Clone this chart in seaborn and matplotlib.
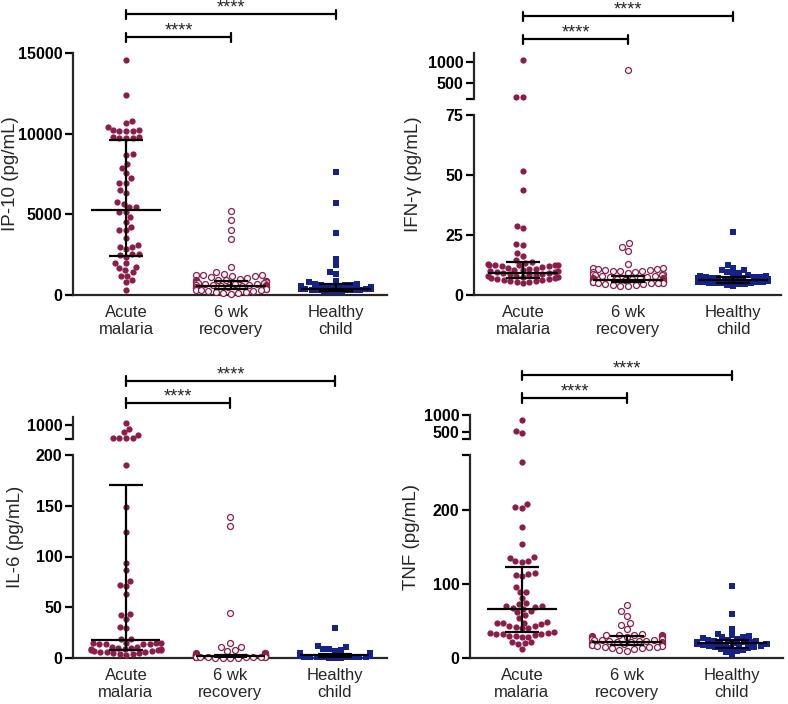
import warnings
import numpy as np
import pandas as pd
import matplotlib
matplotlib.use("Agg")
import matplotlib.pyplot as plt
import matplotlib.transforms as mtransforms
import seaborn as sns

warnings.filterwarnings("ignore")

groups = ["Acute\nmalaria", "6 wk\nrecovery", "Healthy\nchild"]

# ---- IP-10 (pg/mL) ----
ip10_acute = [14550, 12380, 10780, 10650, 10430, 10220, 10200, 10180, 10150, 10140,
              9800, 9780, 9760, 9750, 9720, 8720, 8700, 8100, 7850, 7550, 7230, 6960,
              6950, 6500, 6340, 5780, 5640, 5470, 5450, 5160, 5130, 4850, 4550, 4230,
              4030, 4000, 3550, 3100, 3000, 2980, 2830, 2550, 2540, 2500, 2380, 2000,
              1990, 1750, 1700, 1550, 1400, 1200, 1180, 930, 800, 310]
ip10_recov = [5200, 4620, 4050, 3450, 1750, 1400, 1330, 1240, 1230, 1210, 1180, 1150,
              1100, 1060, 1000, 960, 930, 900, 880, 860, 840, 810, 790, 760, 740, 720,
              700, 680, 660, 640, 620, 600, 590, 570, 550, 540, 520, 500, 490, 470, 450,
              430, 410, 390, 370, 350, 330, 310, 290, 260, 230, 200, 170, 140, 100, 60]
ip10_healthy = [7620, 5720, 3820, 2250, 1850, 1400, 1320, 870, 800, 700, 680, 650, 620,
                600, 580, 560, 540, 520, 510, 500, 490, 480, 470, 460, 450, 440, 430,
                420, 410, 400, 390, 380, 370, 360, 350, 340, 330, 320, 300, 280, 260,
                240, 220, 200]
ip10_median = [5250, 560, 370]
ip10_q1 = [2400, 350, 250]
ip10_q3 = [9600, 870, 660]

# ---- IFN-gamma (pg/mL) ----
ifng_acute = [1050, 170, 165, 51.7, 43.8, 28.7, 27.8, 21.1, 21.0, 17.4, 16.2, 14.6,
              13.6, 13.5, 12.8, 12.7, 12.6, 12.5, 12.4, 12.3, 12.2, 12.0, 11.5, 11.2,
              11.0, 10.8, 10.5, 10.3, 10.0, 9.8, 9.6, 9.4, 9.2, 9.0, 8.8, 8.6, 8.4, 8.2,
              8.0, 7.8, 7.6, 7.4, 7.2, 7.0, 6.8, 6.6, 6.4, 6.2, 6.0, 5.8, 5.6, 5.4, 5.0]
ifng_recov = [800, 21.5, 20.1, 18.3, 12.8, 11.4, 11.2, 11.0, 10.8, 10.6, 10.4, 10.2,
              10.0, 9.8, 9.6, 9.4, 9.1, 8.9, 8.6, 8.4, 8.2, 8.0, 7.8, 7.6, 7.4, 7.2,
              7.0, 6.9, 6.8, 6.7, 6.6, 6.5, 6.4, 6.3, 6.2, 6.1, 6.0, 5.9, 5.8, 5.7,
              5.6, 5.5, 5.4, 5.3, 5.2, 5.1, 5.0, 4.8, 4.6, 4.4, 4.2, 4.0, 3.8, 3.6]
ifng_healthy = [26.4, 12.5, 11.4, 10.4, 10.3, 9.6, 9.0, 8.6, 8.3, 8.1, 7.9, 7.7, 7.5,
                7.3, 7.2, 7.1, 7.0, 6.9, 6.8, 6.7, 6.6, 6.5, 6.4, 6.3, 6.2, 6.1, 6.0,
                5.9, 5.8, 5.7, 5.6, 5.5, 5.4, 5.3, 5.2, 5.1, 5.0, 4.8, 4.6, 4.4, 4.1, 3.8]
ifng_median = [9.0, 6.3, 6.2]
ifng_q1 = [7.0, 5.3, 5.2]
ifng_q3 = [13.6, 7.9, 7.6]

# ---- IL-6 (pg/mL) ----
il6_acute = [1060, 915, 830, 760, 680, 680, 680, 680, 190, 149, 124, 94, 87, 76, 72,
             71, 63, 43, 42, 38, 31, 30, 19, 19, 15, 15, 14.5, 14.5, 14, 14, 14, 14,
             11, 11, 10, 10, 9, 9, 8.5, 8, 8, 7.5, 7, 6.5, 6, 6, 5.5, 5, 4.5, 4, 3.5, 3]
il6_recov = [139, 130, 44, 15, 11, 10.5, 8, 6.5, 5, 4.8, 4.5, 4.2, 4, 3.8, 3.6, 3.4,
             3.2, 3, 2.9, 2.8, 2.7, 2.6, 2.5, 2.4, 2.3, 2.2, 2.1, 2, 1.9, 1.8, 1.7,
             1.6, 1.5, 1.4, 1.3, 1.2, 1.1, 1.0, 0.9, 0.8, 0.7, 0.6, 0.5, 0.4, 0.3,
             0.2, 0.1]
il6_healthy = [30, 12, 11, 9, 8.5, 8, 7, 5, 4.6, 4.2, 4, 3.8, 3.5, 3.2, 3, 2.8, 2.6,
               2.5, 2.4, 2.2, 2.0, 1.9, 1.8, 1.6, 1.5, 1.4, 1.2, 1.1, 1.0, 0.9, 0.8,
               0.6, 0.5, 0.4, 0.3, 0.2]
il6_median = [18, 2, 2.5]
il6_q1 = [8, 1, 1]
il6_q3 = [170, 3, 4]

# ---- TNF (pg/mL) ----
tnf_acute = [850, 535, 480, 266, 209, 204, 203, 177, 155, 137, 136, 132, 131, 130, 115,
             114, 113, 111, 96, 90, 89, 81, 74, 73, 70, 70, 69, 68, 66, 63, 62, 58, 54,
             49, 48, 48, 47, 46, 43, 43, 42, 41, 40, 35, 34, 34, 33, 33, 32, 31, 30,
             30, 29, 28, 22, 21, 20, 19, 12]
tnf_recov = [72, 63, 57, 48, 44.6, 39, 32, 31.5, 31, 31, 30.5, 30, 30, 29.5, 29, 28.5,
             28, 27, 26.5, 26, 25.5, 25, 24.5, 24, 23.5, 23, 22.5, 22, 21.5, 21, 20.5,
             20, 19.5, 19, 18.5, 18, 17.5, 17, 16.5, 16, 15.5, 15, 14.5, 14, 13, 12,
             11, 10]
tnf_healthy = [98, 59, 39, 33, 31, 30, 29, 28, 27, 26, 25, 24, 23.5, 23, 22, 21.5, 21,
               20.5, 20, 19.5, 19, 18.5, 18, 17.5, 17, 16.5, 16, 15.5, 15, 14, 13, 12,
               11, 10, 8, 5]
tnf_median = [66, 21.5, 20]
tnf_q1 = [35, 17, 14]
tnf_q3 = [123, 30, 25]

MAROON = "#8C1D4A"
NAVY = "#14238C"
W, H = 788, 704
# seaborn caps a swarm at 0.8 data units; spacing groups 1.2 apart makes it ~2/3 of a slot
STEP = 1.2
pos = [i * STEP for i in range(len(groups))]

sns.set_style("ticks")
plt.rcParams["font.family"] = ["Liberation Sans", "DejaVu Sans"]

fig = plt.figure(figsize=(W / 100, H / 100), dpi=100)


def px_box(left, top, right, bottom):
    return [left / W, 1 - bottom / H, (right - left) / W, (bottom - top) / H]


styles = [
    dict(marker="o", color=MAROON, linewidth=0, size=4.5),
    dict(marker="o", color="white", edgecolor=MAROON, linewidth=0.9, size=4.3),
    dict(marker="s", color=NAVY, linewidth=0, size=4.2),
]


def swarm(ax, series, keep):
    for x, vals, st in zip(pos, series, styles):
        v = [y for y in vals if keep(y)]
        if not v:
            continue
        df = pd.DataFrame({"x": x, "value": v})
        sns.swarmplot(data=df, x="x", y="value", native_scale=True, orient="x",
                      ax=ax, warn_thresh=1, **st)
    for c in ax.collections:
        c.set_clip_on(False)
    ax.set_xlabel("")
    ax.set_ylabel("")


def style_axis(ax, ticks, labels, ylim, xlim, bottom=True):
    ax.set_ylim(*ylim)
    ax.set_xlim(xlim[0] * STEP, xlim[1] * STEP)
    ax.set_yticks(ticks, labels, fontweight="bold", fontsize=11.5)
    for s in ["top", "right"]:
        ax.spines[s].set_visible(False)
    ax.spines["left"].set_linewidth(1.6)
    ax.spines["bottom"].set_linewidth(1.6)
    ax.tick_params(axis="y", width=1.6, length=5.5, pad=2, colors="black")
    if bottom:
        ax.set_xticks(pos, groups, fontsize=12)
        ax.tick_params(axis="x", length=0, pad=7)
    else:
        ax.spines["bottom"].set_visible(False)
        ax.set_xticks([])
    ax.patch.set_alpha(0)


def summary(ax, med, q1, q3):
    for x, m, lo, hi in zip(pos, med, q1, q3):
        kw = dict(color="black", lw=1.6, zorder=6, solid_capstyle="butt")
        cap, half = 0.16 * STEP, 0.33 * STEP
        ax.plot([x, x], [lo, hi], **kw)
        ax.plot([x - cap, x + cap], [lo, lo], **kw)
        ax.plot([x - cap, x + cap], [hi, hi], **kw)
        ax.plot([x - half, x + half], [m, m], **kw)


def brackets(ax, ys_px):
    tr = mtransforms.blended_transform_factory(ax.transData, fig.transFigure)
    for end, ypx in zip([pos[2], pos[1]], ys_px):
        y = 1 - ypx / H
        dy = 4.5 / H
        kw = dict(color="black", lw=1.6, transform=tr, clip_on=False)
        ax.plot([pos[0], end], [y, y], **kw)
        ax.plot([pos[0], pos[0]], [y - dy, y + dy], **kw)
        ax.plot([end, end], [y - dy, y + dy], **kw)
        ax.text((pos[0] + end) / 2, y + 1.5 / H, "****", transform=tr,
                ha="center", va="baseline", fontsize=13)


def ylabel(text, xpx, ypx):
    fig.text(xpx / W, 1 - ypx / H, text, rotation=90, ha="center", va="center",
             fontsize=13.5)


# Panel A: IP-10
xlim1 = (-0.505, 2.486)
ax = fig.add_axes(px_box(73, 53, 387, 295))
swarm(ax, [ip10_acute, ip10_recov, ip10_healthy], lambda v: True)
summary(ax, ip10_median, ip10_q1, ip10_q3)
style_axis(ax, [0, 5000, 10000, 15000], ["0", "5000", "10000", "15000"], (0, 15000), xlim1)
brackets(ax, [14, 37])
ylabel("IP-10 (pg/mL)", 11, 174)

# Panel B: IFN-gamma (broken axis)
xlim2 = (-0.467, 2.457)
ifng_series = [ifng_acute, ifng_recov, ifng_healthy]
ax_lo = fig.add_axes(px_box(474, 115, 781, 295))
swarm(ax_lo, ifng_series, lambda v: v <= 75)
summary(ax_lo, ifng_median, ifng_q1, ifng_q3)
style_axis(ax_lo, [0, 25, 50, 75], ["0", "25", "50", "75"], (0, 75), xlim2)
ax_hi = fig.add_axes(px_box(474, 53, 781, 99))
swarm(ax_hi, ifng_series, lambda v: v > 75)
style_axis(ax_hi, [119, 500, 1000], ["", "500", "1000"], (119, 1214), xlim2, bottom=False)
brackets(ax_hi, [16, 39])
ylabel("IFN-\u03b3 (pg/mL)", 414, 174)

# Panel C: IL-6 (broken axis)
xlim3 = (-0.507, 2.498)
il6_series = [il6_acute, il6_recov, il6_healthy]
ax_lo = fig.add_axes(px_box(73, 455, 387, 658))
swarm(ax_lo, il6_series, lambda v: v <= 200)
summary(ax_lo, il6_median, il6_q1, il6_q3)
style_axis(ax_lo, [0, 50, 100, 150, 200], ["0", "50", "100", "150", "200"], (0, 200), xlim3)
ax_hi = fig.add_axes(px_box(73, 417, 387, 439))
swarm(ax_hi, il6_series, lambda v: v > 200)
style_axis(ax_hi, [650, 1000], ["", "1000"], (650, 1214), xlim3, bottom=False)
brackets(ax_hi, [381, 403])
ylabel("IL-6 (pg/mL)", 15, 537)

# Panel D: TNF (broken axis)
xlim4 = (-0.495, 2.486)
tnf_series = [tnf_acute, tnf_recov, tnf_healthy]
ax_lo = fig.add_axes(px_box(470, 455, 783, 658))
swarm(ax_lo, tnf_series, lambda v: v <= 275)
summary(ax_lo, tnf_median, tnf_q1, tnf_q3)
style_axis(ax_lo, [0, 100, 200, 275], ["0", "100", "200", ""], (0, 275), xlim4)
ax_hi = fig.add_axes(px_box(470, 415, 783, 439))
swarm(ax_hi, tnf_series, lambda v: v > 275)
style_axis(ax_hi, [294, 500, 1000], ["", "500", "1000"], (294, 1000), xlim4, bottom=False)
brackets(ax_hi, [375, 398])
ylabel("TNF (pg/mL)", 411, 537)

fig.savefig("out.png", dpi=100)
